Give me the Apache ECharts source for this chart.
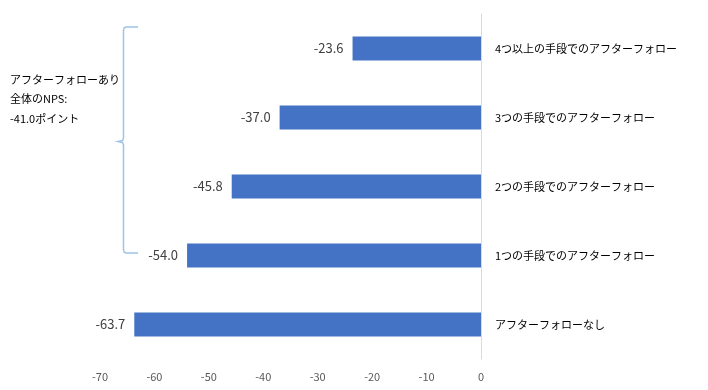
<!DOCTYPE html>
<html><head><meta charset="utf-8">
<script src="https://cdn.jsdelivr.net/npm/echarts@6/dist/echarts.min.js"></script>
<style>html,body{margin:0;padding:0;background:#fff}#c{width:708px;height:390px}</style>
</head><body><div id="c"></div>
<script>
const categories = ["4つ以上の手段でのアフターフォロー","3つの手段でのアフターフォロー","2つの手段でのアフターフォロー","1つの手段でのアフターフォロー","アフターフォローなし"];
const values = [-23.6, -37.0, -45.8, -54.0, -63.7];
const noteLines = ["アフターフォローあり","全体のNPS:","-41.0ポイント"];
const xMin = -70, xMax = 0, xStep = 10;

const chart = echarts.init(document.getElementById('c'));
const font = '"Noto Sans CJK JP","Noto Sans",sans-serif';
chart.setOption({
  animation:false,
  grid:{left:100, right:227, top:14, bottom:31},
  xAxis:{type:'value', min:xMin, max:xMax, interval:xStep,
    axisLine:{show:false}, axisTick:{show:false}, splitLine:{show:false},
    axisLabel:{color:'#595959', fontSize:11, fontFamily:font, margin:12}},
  yAxis:{type:'category', data:categories, inverse:true, position:'right',
    axisLine:{show:true, lineStyle:{color:'#d9d9d9', width:1}}, axisTick:{show:false},
    axisLabel:{color:'#000', fontSize:11, fontFamily:font, margin:14}},
  series:[{type:'bar', data:values, barWidth:24,
    itemStyle:{color:'#4472c4'},
    label:{show:true, position:'left', distance:9, color:'#404040', fontSize:13, fontFamily:font,
      formatter:p=>p.value.toFixed(1)}}],
  graphic:[
    {type:'polyline', shape:{points:[[138,27],[126,27],[124.2,27.8],[123.5,30],[123.5,138],[122.5,140.5],[118,141.5],[122.5,142.5],[123.5,145],[123.5,250],[124.2,252.2],[126,253],[138,253]]},
     style:{fill:null, stroke:'#9dc3e6', lineWidth:1.5}},
    ...noteLines.map((t,i)=>({type:'text', left:10, top:74+i*19.5, style:{text:t, fontSize:11, fill:'#000', fontFamily:font}}))
  ]
});
</script></body></html>
